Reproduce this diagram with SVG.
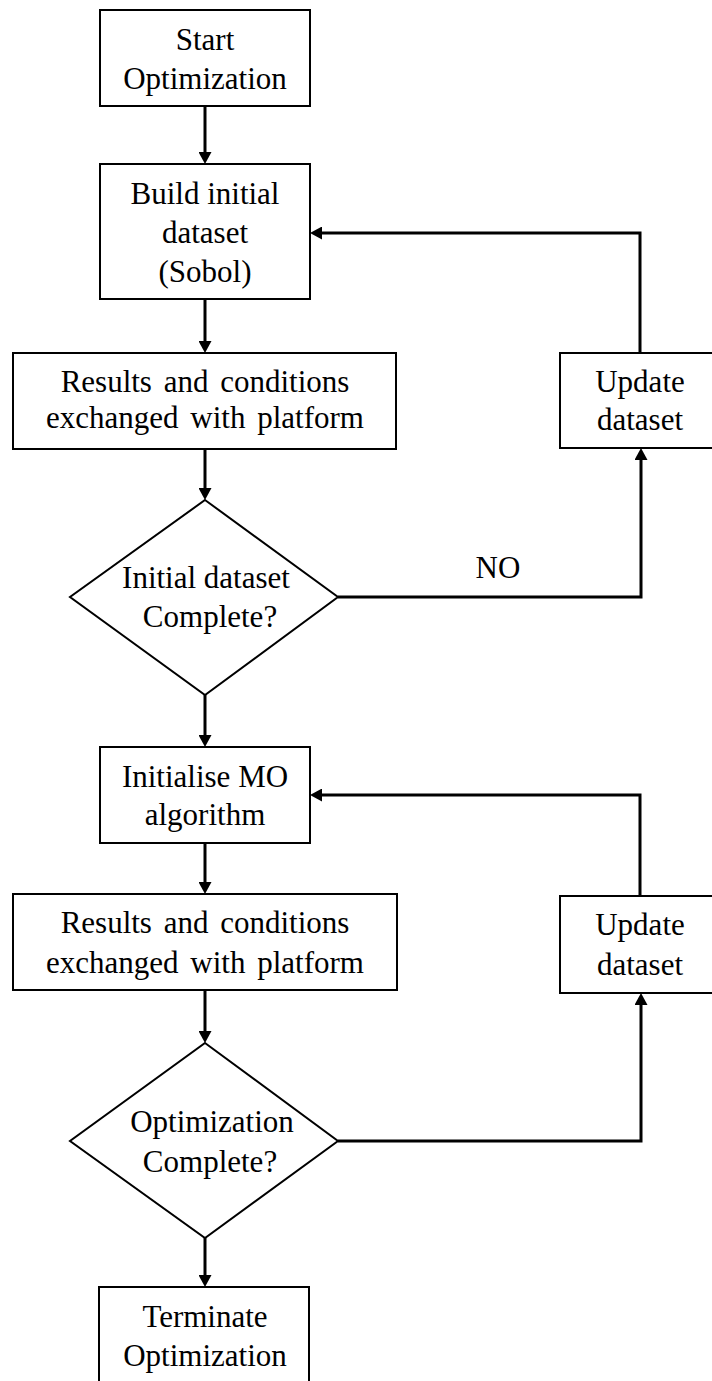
<svg xmlns="http://www.w3.org/2000/svg" width="712" height="1381" viewBox="0 0 712 1381">
<style>
.box{fill:#fff;stroke:#000;stroke-width:2}
.t{font-family:"Liberation Serif","Times New Roman",serif;font-size:31px;fill:#000;text-anchor:middle}
.c{fill:none;stroke:#000;stroke-width:3}
</style>
<defs>
<marker id="ah" viewBox="0 0 12 13" refX="6" refY="6.5" markerWidth="12" markerHeight="13" markerUnits="userSpaceOnUse" orient="auto">
<path d="M0,0 L12,6.5 L0,13 z" fill="#000"/>
</marker>
</defs>
<rect width="712" height="1381" fill="#fff"/>
<g id="connectors">
<path class="c" d="M205,106 V158" marker-end="url(#ah)"/>
<path class="c" d="M205,299 V347" marker-end="url(#ah)"/>
<path class="c" d="M205,449 V494" marker-end="url(#ah)"/>
<path class="c" d="M338,597 H641 V454" marker-end="url(#ah)"/>
<path class="c" d="M640,353 V233 H316" marker-end="url(#ah)"/>
<path class="c" d="M205,695 V741" marker-end="url(#ah)"/>
<path class="c" d="M205,843 V888" marker-end="url(#ah)"/>
<path class="c" d="M640,896 V795 H316" marker-end="url(#ah)"/>
<path class="c" d="M205,990 V1037" marker-end="url(#ah)"/>
<path class="c" d="M338,1141 H641 V999" marker-end="url(#ah)"/>
<path class="c" d="M205,1238 V1281" marker-end="url(#ah)"/>
<text class="t" x="498" y="578">NO</text>
</g>
<g id="start">
<rect class="box" x="100" y="10" width="210" height="96"/>
<text class="t" x="205" y="50">Start</text>
<text class="t" x="205" y="89">Optimization</text>
</g>
<g id="build">
<rect class="box" x="100" y="164" width="210" height="135"/>
<text class="t" x="205" y="204">Build initial</text>
<text class="t" x="205" y="243">dataset</text>
<text class="t" x="205" y="282">(Sobol)</text>
</g>
<g id="results1">
<rect class="box" x="13" y="353" width="383" height="96"/>
<text class="t" x="205" y="392" word-spacing="4">Results and conditions</text>
<text class="t" x="205" y="428" word-spacing="4">exchanged with platform</text>
</g>
<g id="update1">
<rect class="box" x="560" y="353" width="170" height="95"/>
<text class="t" x="640" y="392">Update</text>
<text class="t" x="640" y="430">dataset</text>
</g>
<g id="decision1">
<polygon class="box" points="205,500 338,597 205,695 70,597"/>
<text class="t" x="206" y="588">Initial dataset</text>
<text class="t" x="210" y="627">Complete?</text>
</g>
<g id="initialise">
<rect class="box" x="100" y="747" width="210" height="96"/>
<text class="t" x="205" y="787">Initialise MO</text>
<text class="t" x="205" y="825">algorithm</text>
</g>
<g id="results2">
<rect class="box" x="13" y="894" width="384" height="96"/>
<text class="t" x="205" y="933" word-spacing="4">Results and conditions</text>
<text class="t" x="205" y="973" word-spacing="4">exchanged with platform</text>
</g>
<g id="update2">
<rect class="box" x="560" y="896" width="170" height="97"/>
<text class="t" x="640" y="935">Update</text>
<text class="t" x="640" y="975">dataset</text>
</g>
<g id="decision2">
<polygon class="box" points="205,1043 338,1141 205,1238 70,1141"/>
<text class="t" x="212" y="1132">Optimization</text>
<text class="t" x="210" y="1172">Complete?</text>
</g>
<g id="terminate">
<rect class="box" x="99" y="1287" width="210" height="110"/>
<text class="t" x="205" y="1327">Terminate</text>
<text class="t" x="205" y="1366">Optimization</text>
</g>
</svg>
